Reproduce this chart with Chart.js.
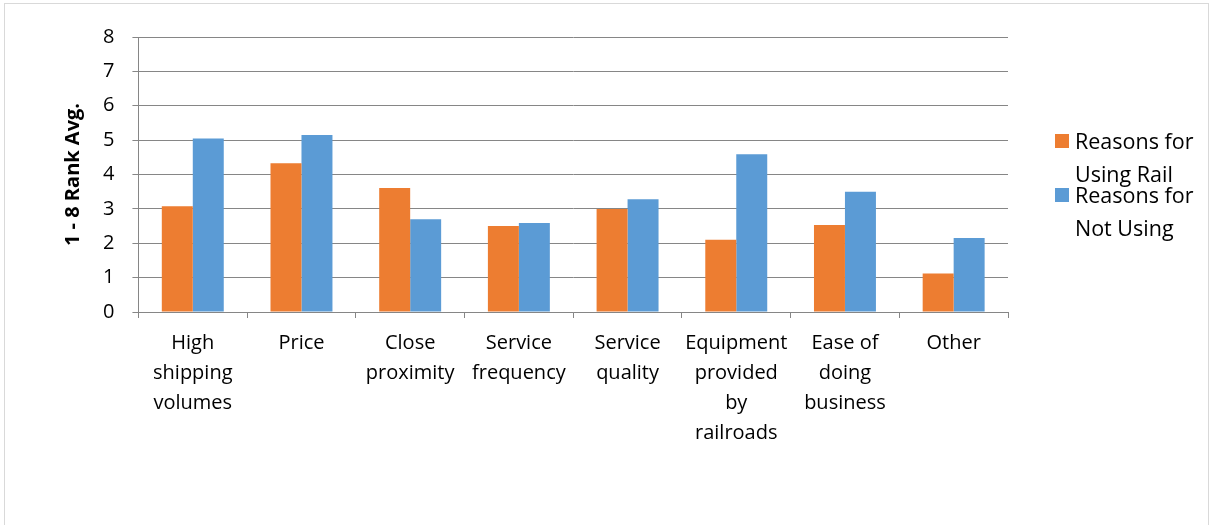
<!DOCTYPE html>
<html>
<head>
<meta charset="utf-8">
<script src="https://cdn.jsdelivr.net/npm/chart.js@4/dist/chart.umd.min.js"></script>
<style>
  html, body { margin: 0; padding: 0; background: #fff; }
  #wrap { position: relative; width: 1214px; height: 525px; overflow: hidden; }
  #frame { position: absolute; left: 4px; top: 3px; width: 1205px; height: 540px; border: 1px solid #d9d9d9; box-sizing: border-box; }
  canvas { position: absolute; left: 0; top: 0; }
  .legend { position: absolute; left: 1055px; font-family: 'Open Sans', sans-serif; font-size: 21.5px; line-height: 33px; color: #000; }
  .legend .box { position: absolute; left: 0; top: 10px; width: 14px; height: 14px; }
  .legend .txt { position: absolute; left: 20px; top: 0; white-space: nowrap; }
</style>
</head>
<body>
<div id="wrap">
  <div id="frame"></div>
  <canvas id="chart" width="1214" height="525"></canvas>
  <div class="legend" style="top:124px"><div class="box" style="background:#ED7D31"></div><div class="txt">Reasons for<br>Using Rail</div></div>
  <div class="legend" style="top:178px"><div class="box" style="background:#5B9BD5"></div><div class="txt">Reasons for<br>Not Using</div></div>
</div>
<script>
// categories (multi-line labels as drawn under the axis)
const categories = [
  ['High', 'shipping', 'volumes'],
  ['Price'],
  ['Close', 'proximity'],
  ['Service', 'frequency'],
  ['Service', 'quality'],
  ['Equipment', 'provided', 'by', 'railroads'],
  ['Ease of', 'doing', 'business'],
  ['Other']
];
const usingRail = [3.08, 4.33, 3.61, 2.5, 3.0, 2.1, 2.53, 1.12];
const notUsing = [5.05, 5.15, 2.7, 2.59, 3.28, 4.59, 3.5, 2.15];
const yTicks = [0, 1, 2, 3, 4, 5, 6, 7, 8];

const FONT = "'Open Sans', sans-serif";

new Chart(document.getElementById('chart'), {
  type: 'bar',
  data: {
    labels: categories,
    datasets: [
      { label: 'Reasons for Using Rail', data: usingRail, backgroundColor: '#ED7D31', borderWidth: 0 },
      { label: 'Reasons for Not Using', data: notUsing, backgroundColor: '#5B9BD5', borderWidth: 0 }
    ]
  },
  options: {
    responsive: false,
    animation: false,
    layout: { padding: { left: 61, right: 206, top: 37, bottom: 67 } },
    plugins: { legend: { display: false }, tooltip: { enabled: false } },
    datasets: { bar: { barPercentage: 1, categoryPercentage: 0.57 } },
    scales: {
      x: {
        grid: { drawOnChartArea: false, drawTicks: true, tickLength: 6, color: '#868686', offset: true },
        border: { color: '#868686' },
        ticks: { color: '#000', padding: 10, maxRotation: 0, autoSkip: false, font: { family: FONT, size: 20, lineHeight: 1.5 } }
      },
      y: {
        min: 0,
        max: 8,
        afterBuildTicks: (axis) => { axis.ticks = yTicks.map(v => ({ value: v })); },
        grid: { color: '#868686', tickLength: 6 },
        border: { color: '#868686' },
        ticks: { color: '#000', padding: 18, font: { family: FONT, size: 20 } },
        title: { display: true, text: '1 - 8 Rank Avg.', color: '#000', padding: 0, font: { family: FONT, size: 20, weight: 'bold' } }
      }
    }
  }
});
</script>
</body>
</html>
